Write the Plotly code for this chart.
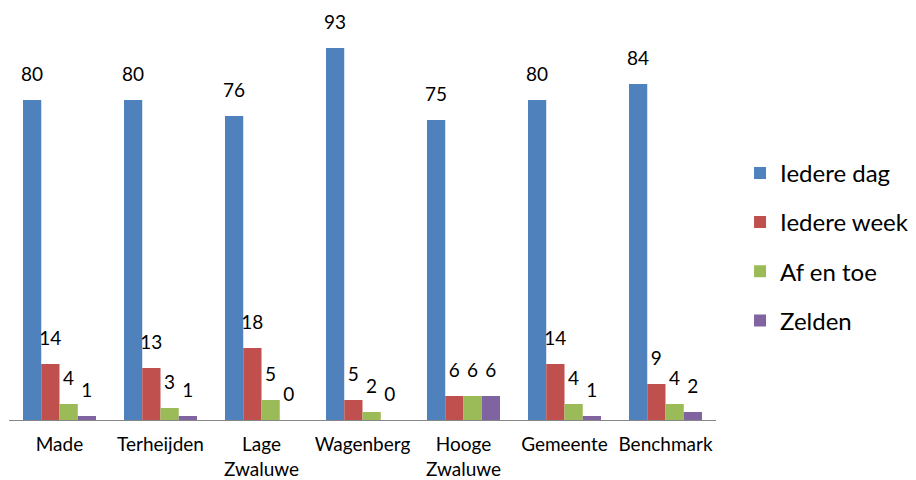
import plotly.graph_objects as go

categories = ["Made", "Terheijden", "Lage<br>Zwaluwe", "Wagenberg", "Hooge<br>Zwaluwe", "Gemeente", "Benchmark"]
series_names = ["Iedere dag", "Iedere week", "Af en toe", "Zelden"]
iedere_dag = [80, 80, 76, 93, 75, 80, 84]
iedere_week = [14, 13, 18, 5, 6, 14, 9]
af_en_toe = [4, 3, 5, 2, 6, 4, 4]
zelden = [1, 1, 0, 0, 6, 1, 2]
colors = ["#4F81BD", "#C0504D", "#9BBB59", "#8064A2"]

FONT = "Lato, Open Sans, sans-serif"
GAP = 0.277
fig = go.Figure()
for name, vals, col in zip(series_names, [iedere_dag, iedere_week, af_en_toe, zelden], colors):
    fig.add_trace(go.Bar(
        x=categories, y=vals, name=name, legendgroup=name, offsetgroup=name,
        marker=dict(color=col, line=dict(width=0)),
    ))
for name, vals in zip(series_names, [iedere_dag, iedere_week, af_en_toe, zelden]):
    fig.add_trace(go.Scatter(
        x=categories, y=vals, mode="markers+text", offsetgroup=name,
        text=[str(v) for v in vals], textposition="top center",
        marker=dict(size=22, opacity=0),
        textfont=dict(size=19, color="#000000", family=FONT),
        showlegend=False, hoverinfo="skip", cliponaxis=False,
    ))

fig.update_layout(
    width=908, height=472,
    margin=dict(l=1, r=200, t=12, b=60),
    paper_bgcolor="white", plot_bgcolor="white",
    barmode="group", bargap=GAP, bargroupgap=0,
    scattermode="group", scattergap=GAP,
    font=dict(family=FONT, size=19, color="#000000"),
    legend=dict(x=1.034, y=0.433, xanchor="left", yanchor="middle",
                font=dict(size=24, family=FONT), tracegroupgap=15,
                itemwidth=30),
    showlegend=True,
)
fig.update_xaxes(showline=True, linecolor="#868686", linewidth=1, ticks="",
                 tickfont=dict(size=19), showgrid=False, ticklabelstandoff=7,
                 automargin=False)
fig.update_yaxes(range=[0, 100], visible=False, showgrid=False, zeroline=False,
                 automargin=False)
fig.write_html("out.html")
